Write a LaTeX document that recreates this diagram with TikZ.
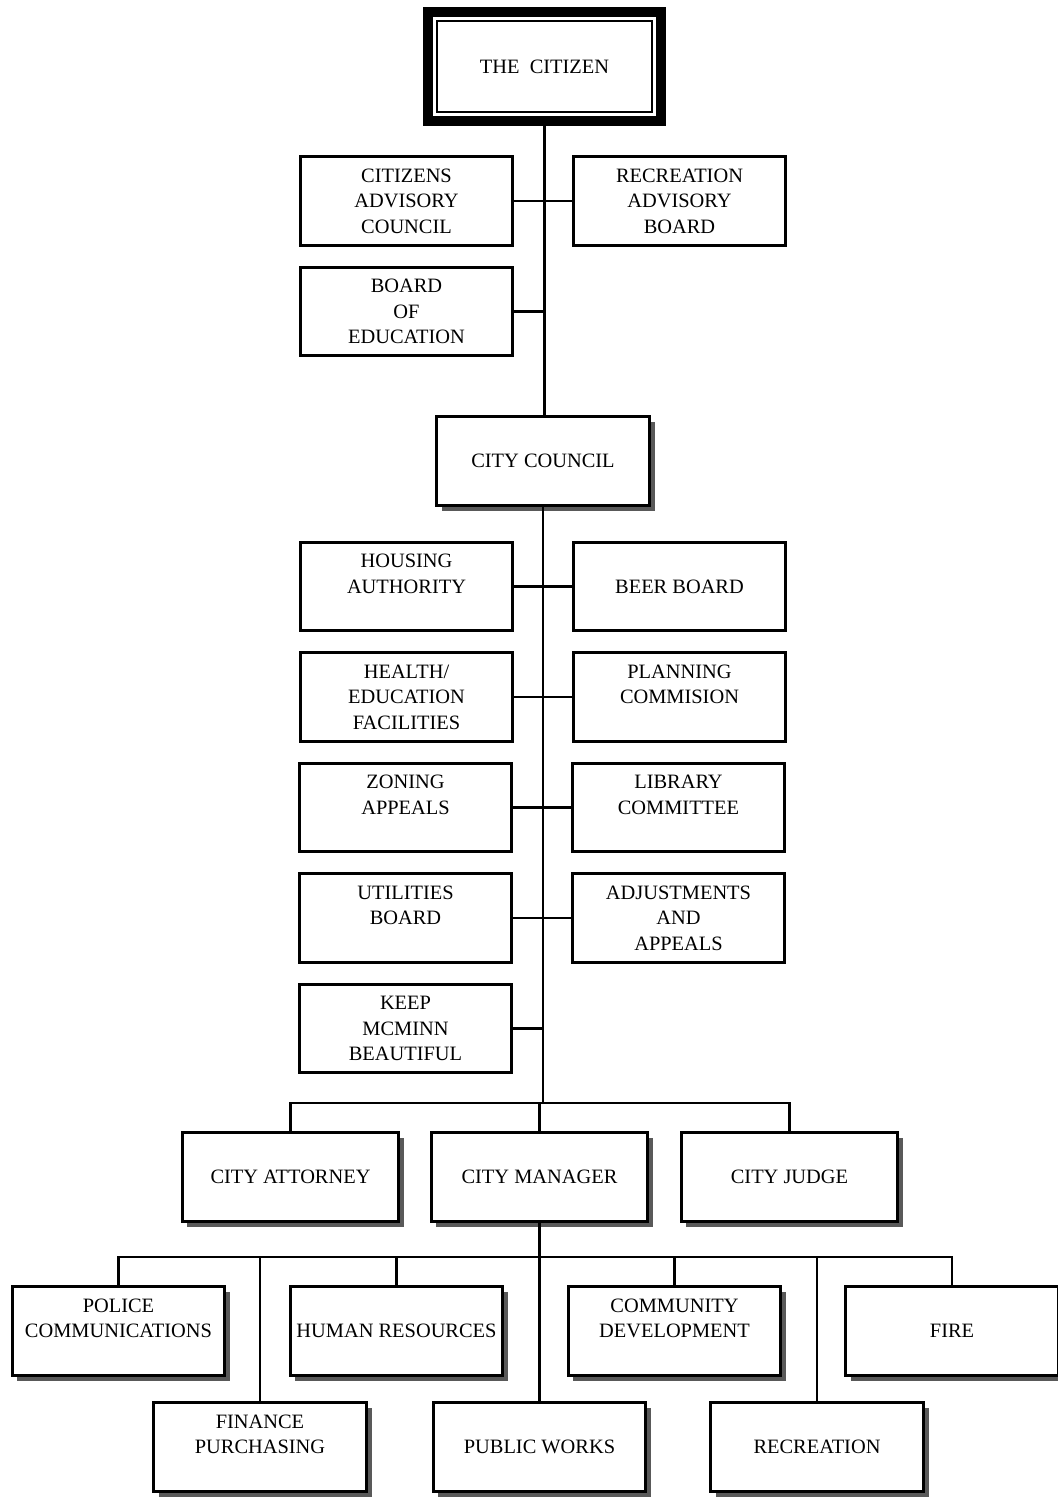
\documentclass[tikz,border=0pt]{standalone}
\usepackage{fontspec}
\setmainfont{Liberation Serif}
\usetikzlibrary{shadows}

\tikzset{
  box/.style={draw, line width=1.4pt, fill=white, minimum width=106.3pt, minimum height=44.3pt,
    inner sep=0pt, align=center, font=\fontsize{10.2}{12.75}\selectfont},
  sbox/.style={box, drop shadow={shadow xshift=2.6pt, shadow yshift=-2.6pt, fill=black!65, opacity=1}},
  citbox/.style={box, line width=5pt, minimum width=116.5pt, minimum height=54.5pt}
}

\begin{document}
\begin{tikzpicture}[x=0.5pt,y=0.5pt,yscale=-1,xscale=1,line width=1.4pt]
\useasboundingbox (0,0) rectangle (1057,1497);

% Text Node
\node[citbox] (citizen) at (544.5,66.5) {THE\enspace CITIZEN};
\draw [line width=1pt] ([shift={(14,14)}]citizen.north west) rectangle ([shift={(-14,-14)}]citizen.south east);

% boards under the citizen
\node[box] (cac) at (406.5,201) {CITIZENS\\ADVISORY\\COUNCIL};
\node[box] (rab) at (679.5,201) {RECREATION\\ADVISORY\\BOARD};
\node[box] (boe) at (406.5,311.5) {BOARD\\OF\\EDUCATION};

\node[sbox] (council) at (543,461) {CITY COUNCIL};

% boards under the council
\node[box] (housing) at (406.5,586.5) {HOUSING\\AUTHORITY\\~};
\node[box] (beer) at (679.5,586.5) {BEER BOARD};
\node[box] (health) at (406.5,697) {HEALTH/\\EDUCATION\\FACILITIES};
\node[box] (planning) at (679.5,697) {PLANNING\\COMMISION\\~};
\node[box] (zoning) at (405.5,807.5) {ZONING\\APPEALS\\~};
\node[box] (library) at (678.5,807.5) {LIBRARY\\COMMITTEE\\~};
\node[box] (utilities) at (405.5,918) {UTILITIES\\BOARD\\~};
\node[box] (adjust) at (678.5,918) {ADJUSTMENTS\\AND\\APPEALS};
\node[box] (keep) at (405.5,1028.5) {KEEP\\MCMINN\\BEAUTIFUL};

% officers
\node[sbox, minimum width=108.3pt] (attorney) at (290.5,1177) {CITY ATTORNEY};
\node[sbox, minimum width=108.3pt] (manager) at (539.5,1177) {CITY MANAGER};
\node[sbox, minimum width=108.3pt] (judge) at (789.5,1177) {CITY JUDGE};

% departments
\node[sbox] (police) at (118.5,1331) {POLICE\\COMMUNICATIONS\\~};
\node[sbox] (hr) at (396.5,1331) {HUMAN RESOURCES};
\node[sbox] (comdev) at (674.5,1331) {COMMUNITY\\DEVELOPMENT\\~};
\node[sbox] (fire) at (952,1331) {FIRE};
\node[sbox] (finance) at (260,1447) {FINANCE\\PURCHASING\\~};
\node[sbox] (public) at (539.5,1447) {PUBLIC WORKS};
\node[sbox] (recreation) at (817,1447) {RECREATION};

\coordinate (bus1) at (543,1103);
\coordinate (bus2) at (539.5,1257);

%Straight Lines
\draw (citizen.south) -- (citizen.south |- council.north);
\draw (cac.east) -- (rab.west);
\draw (boe.east) -- (boe.east -| citizen.south);
\draw (council.south) -- (bus1);
\draw (housing.east) -- (beer.west);
\draw (health.east) -- (planning.west);
\draw (zoning.east) -- (library.west);
\draw (utilities.east) -- (adjust.west);
\draw (keep.east) -- (keep.east -| council.south);
\draw (attorney.north) |- (bus1) -| (judge.north);
\draw (manager.north) -- (manager.north |- bus1);
\draw (manager.south) -- (public.north);
\draw (police.north) |- (bus2) -| (fire.north);
\draw (hr.north) -- (hr.north |- bus2);
\draw (comdev.north) -- (comdev.north |- bus2);
\draw (finance.north) -- (finance.north |- bus2);
\draw (recreation.north) -- (recreation.north |- bus2);

\end{tikzpicture}
\end{document}
